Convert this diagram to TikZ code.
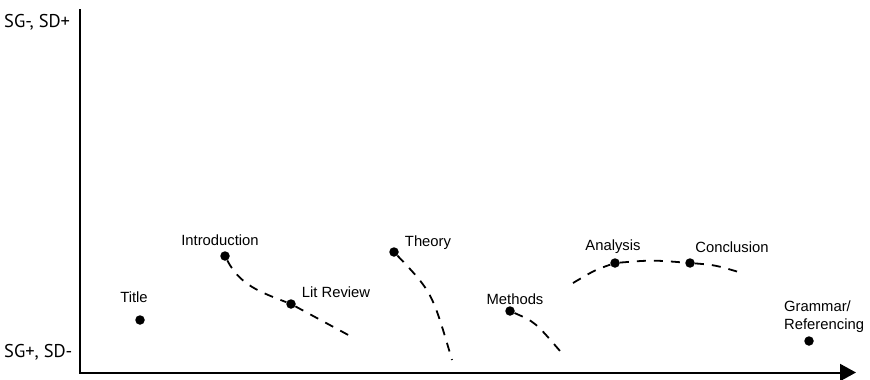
\documentclass[tikz,border=0pt]{standalone}
\usepackage{fontspec}
\setmainfont{Liberation Sans}
\newfontfamily\axisfont{PT Sans}
\usetikzlibrary{arrows.meta}
\begin{document}
\begin{tikzpicture}[x=1pt,y=-1pt,
  axisline/.style={line width=2pt},
  pt/.style={circle,fill=black,inner sep=0pt,minimum size=9.5pt},
  lbl/.style={inner sep=0pt,font=\fontsize{14.8}{18}\selectfont},
  axlbl/.style={inner sep=0pt,font=\axisfont\fontsize{18.5}{22}\selectfont},
  trend/.style={line width=1.8pt,dash pattern=on 9pt off 8pt}]
\useasboundingbox (0,0) rectangle (870,380);

% axes
\coordinate (ytop) at (80,9);
\coordinate (origin) at (80,372.5);
\coordinate (xend) at (856,372.5);
\draw[axisline,-{Triangle[length=16pt,width=17pt]}] (ytop) -- (origin) -- (xend);
\node[axlbl,anchor=west] (high) at (4,22) {SG-, SD+};
\node[axlbl,anchor=west] (low) at (4,352) {SG+, SD-};

% stages
\node[pt] (title) at (140,320) {};
\node[lbl] (titlel) at (134,297) {Title};
\node[pt] (intro) at (225,256) {};
\node[lbl] (introl) at (220,240) {Introduction};
\node[pt] (lit) at (291,304) {};
\node[lbl] (litl) at (336,292) {Lit Review};
\node[pt] (theory) at (394,252) {};
\node[lbl] (theoryl) at (428,243) {Theory};
\node[pt] (methods) at (510,311) {};
\node[lbl] (methodsl) at (515,299) {Methods};
\node[pt] (ana) at (615,263) {};
\node[lbl] (anal) at (613,247) {Analysis};
\node[pt] (conc) at (690,263) {};
\node[lbl] (concl) at (732,247) {Conclusion};
\node[pt] (gram) at (809,341) {};
\node[lbl,anchor=west,align=left] (graml) at (784,317) {Grammar/\\Referencing};

% trend lines
\coordinate (litend) at (352,337);
\coordinate (theoryend) at (452,360);
\coordinate (methodsend) at (560,351);
\coordinate (anastart) at (573,283);
\coordinate (concend) at (742,273);
\draw[trend] (intro) .. controls (240,285) and (260,292) .. (lit) -- (litend);
\draw[trend] (theory) .. controls (432,292) .. (theoryend);
\draw[trend] (methods) .. controls (535,322) .. (methodsend);
\draw[trend] (anastart) .. controls (595,270) .. (ana)
  .. controls (652,260) .. (conc) .. controls (715,265) .. (concend);
\end{tikzpicture}
\end{document}
